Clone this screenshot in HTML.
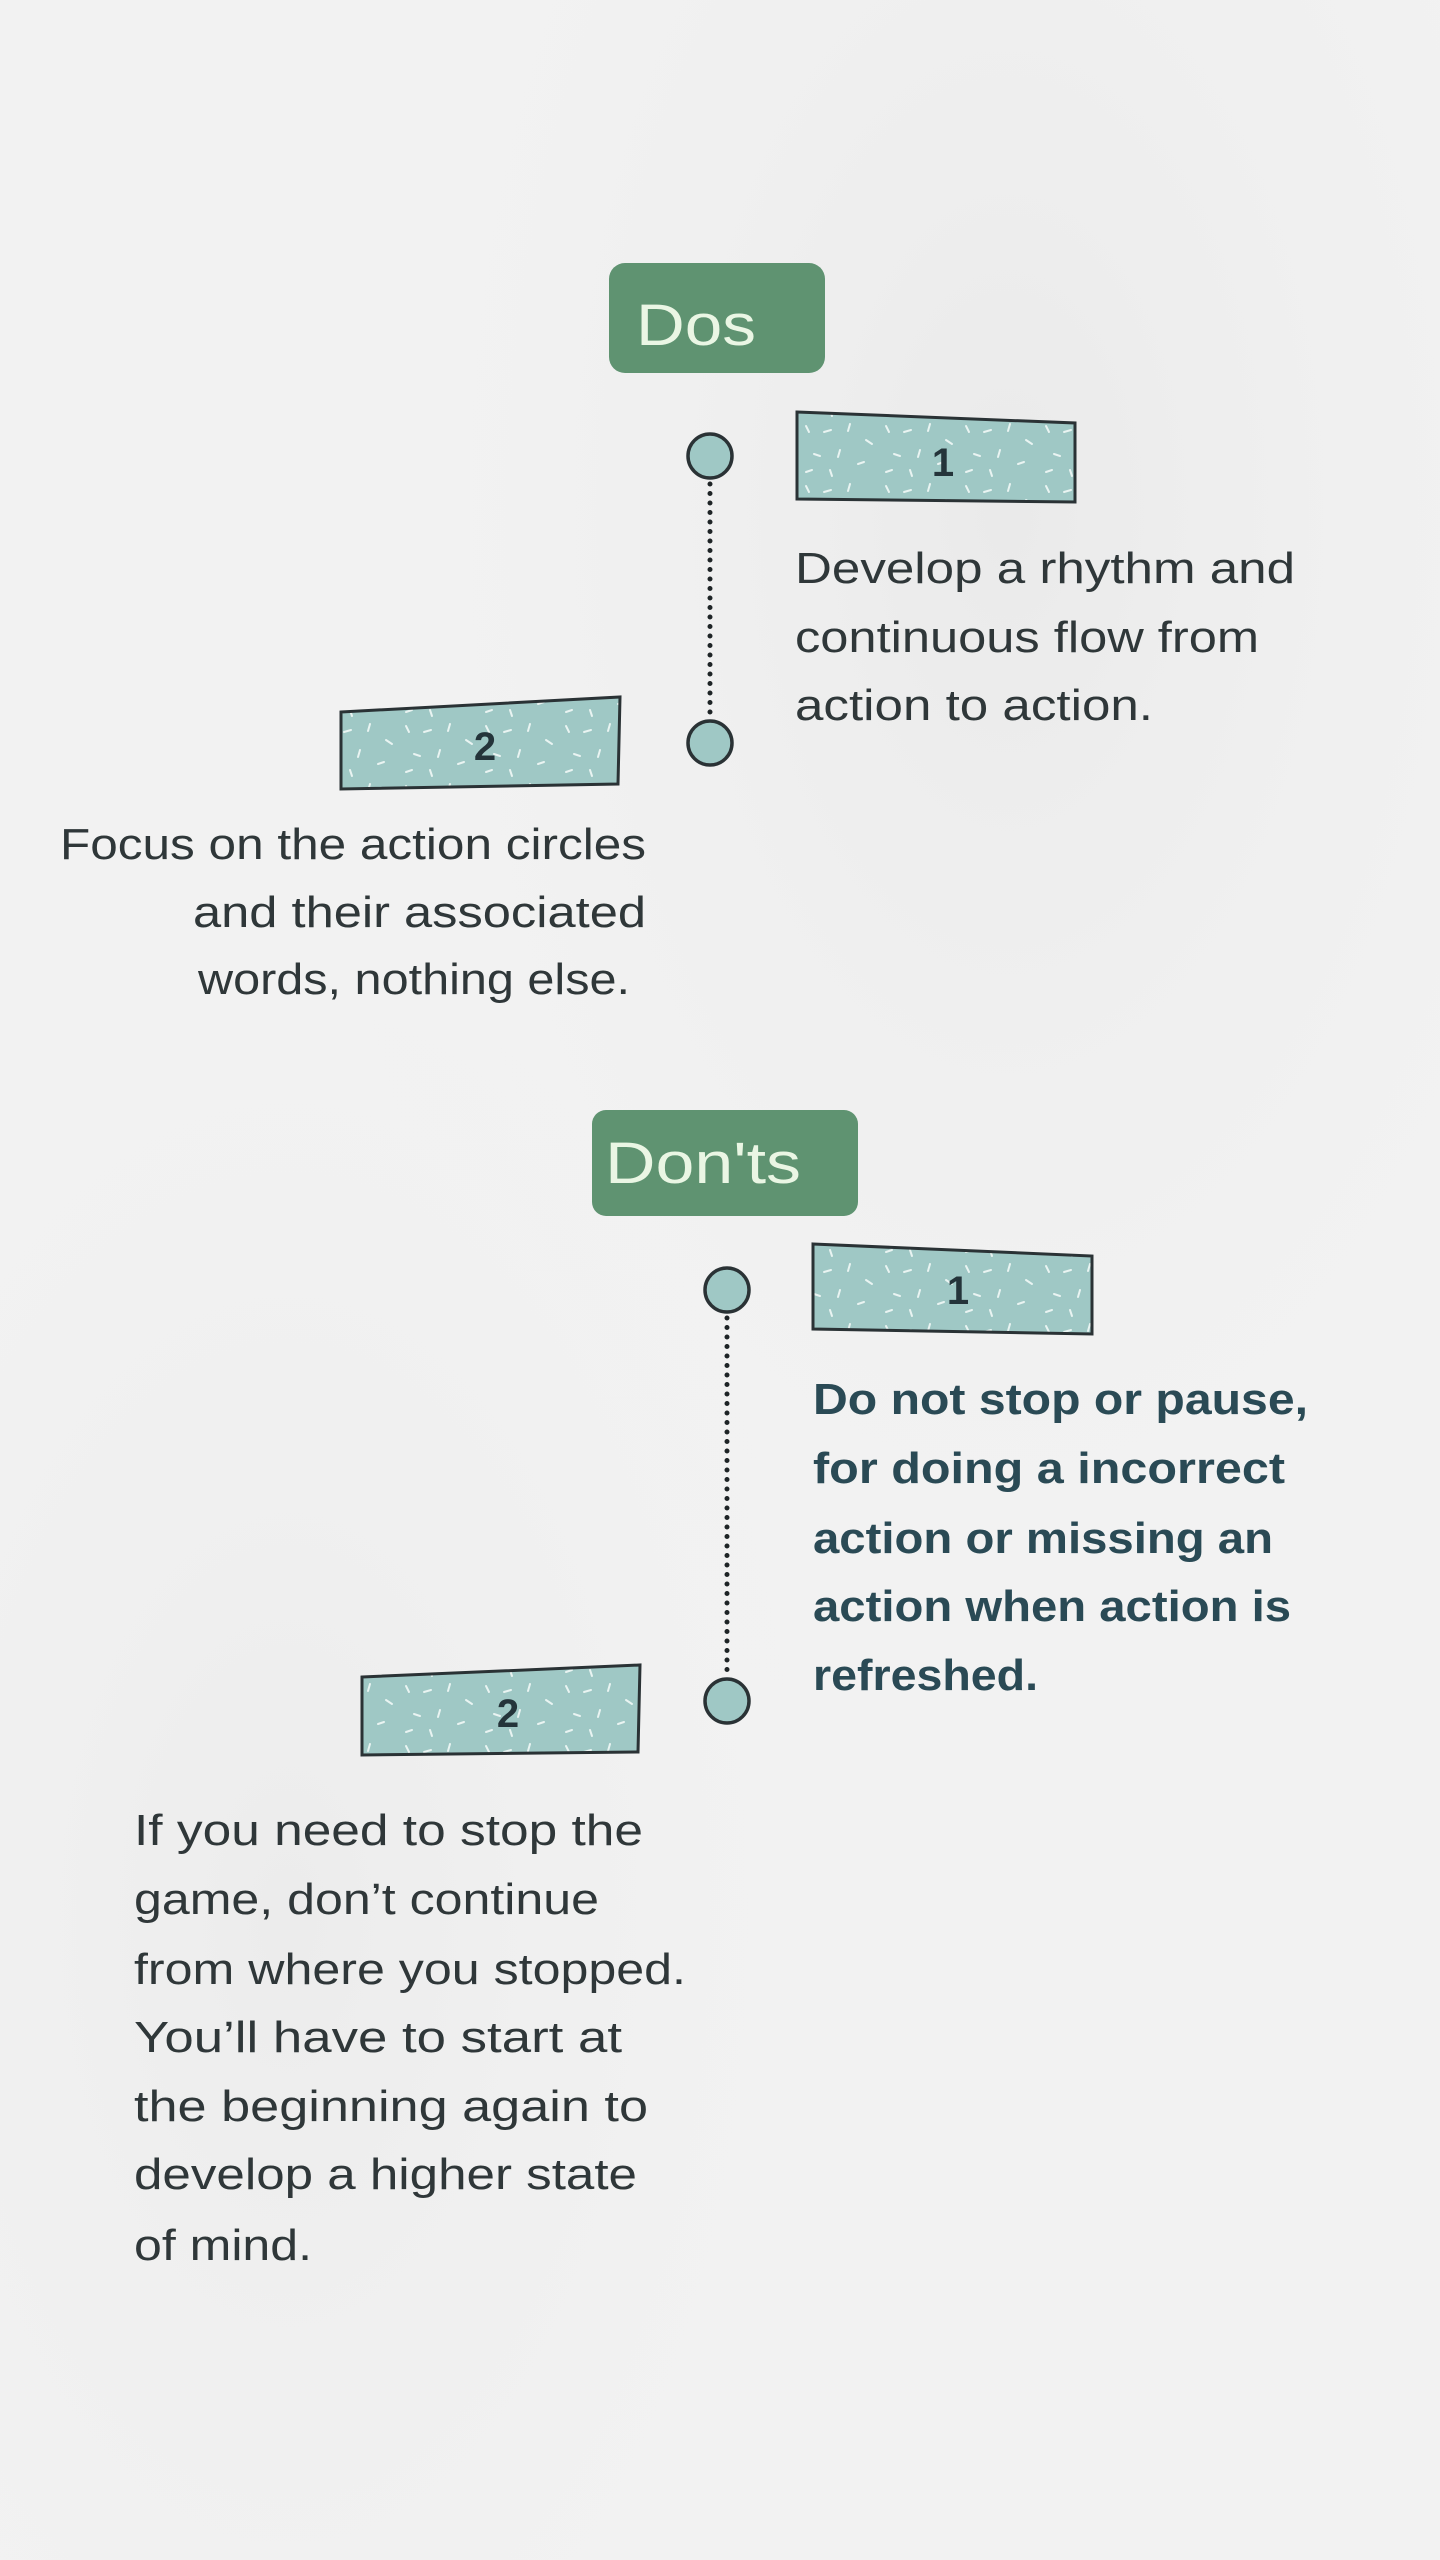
<!DOCTYPE html>
<html><head><meta charset="utf-8"><style>
html,body{margin:0;padding:0;width:1440px;height:2560px;overflow:hidden;background:#f2f2f2;}
svg{display:block;}
.t{font-family:"Liberation Sans",sans-serif;font-size:44px;fill:#2f3739;}
.b{font-family:"Liberation Sans",sans-serif;font-size:44px;fill:#2a4a55;font-weight:bold;}
.h{font-family:"Liberation Sans",sans-serif;font-size:58px;fill:#eaf6e4;}
.n{font-family:"Liberation Sans",sans-serif;font-size:40px;fill:#24343a;font-weight:bold;}
</style></head><body>
<svg width="1440" height="2560" viewBox="0 0 1440 2560" xmlns="http://www.w3.org/2000/svg">
<defs>
<radialGradient id="g1" cx="0.7" cy="0.2" r="0.5"><stop offset="0" stop-color="#eaeaea"/><stop offset="1" stop-color="#f2f2f2" stop-opacity="0"/></radialGradient>
<radialGradient id="g2" cx="0.2" cy="0.75" r="0.45"><stop offset="0" stop-color="#ececec"/><stop offset="1" stop-color="#f2f2f2" stop-opacity="0"/></radialGradient>
<pattern id="sp" width="80" height="60" patternUnits="userSpaceOnUse">
<rect width="80" height="60" fill="#9fc8c5"/>
<g stroke="#e9f4f2" stroke-width="2" stroke-linecap="round">
<line x1="6" y1="6" x2="9" y2="12"/><line x1="24" y1="12" x2="31" y2="10"/><line x1="50" y1="4" x2="48" y2="11"/>
<line x1="66" y1="20" x2="72" y2="24"/><line x1="14" y1="34" x2="20" y2="36"/><line x1="40" y1="30" x2="38" y2="37"/>
<line x1="58" y1="44" x2="64" y2="42"/><line x1="6" y1="52" x2="12" y2="50"/><line x1="30" y1="50" x2="32" y2="56"/>
</g></pattern>
</defs>
<rect width="1440" height="2560" fill="#f2f2f2"/>
<rect width="1440" height="2560" fill="url(#g1)"/>
<rect width="1440" height="2560" fill="url(#g2)"/>

<rect x="609" y="263" width="216" height="110" rx="16" fill="#5f9371"/>
<text class="h" x="636" y="345" textLength="120" lengthAdjust="spacingAndGlyphs">Dos</text>

<line x1="710" y1="484" x2="710" y2="716" stroke="#1e2426" stroke-width="5" stroke-linecap="round" stroke-dasharray="0 9.5"/>
<circle cx="710" cy="456" r="22" fill="#9fc8c5" stroke="#2a3235" stroke-width="3.5"/>
<circle cx="710" cy="743" r="22" fill="#9fc8c5" stroke="#2a3235" stroke-width="3.5"/>

<polygon points="797,412 1075,423 1075,502 797,499" fill="url(#sp)" stroke="#2a3235" stroke-width="3"/>
<text class="n" x="943" y="476" text-anchor="middle">1</text>
<polygon points="341,712 620,697 618,784 341,789" fill="url(#sp)" stroke="#2a3235" stroke-width="3"/>
<text class="n" x="485" y="760" text-anchor="middle">2</text>

<text class="t" x="795" y="583" textLength="500" lengthAdjust="spacingAndGlyphs">Develop a rhythm and</text>
<text class="t" x="795" y="652" textLength="464" lengthAdjust="spacingAndGlyphs">continuous flow from</text>
<text class="t" x="795" y="720" textLength="358" lengthAdjust="spacingAndGlyphs">action to action.</text>

<text class="t" x="60" y="859" textLength="586" lengthAdjust="spacingAndGlyphs">Focus on the action circles</text>
<text class="t" x="193" y="927" textLength="453" lengthAdjust="spacingAndGlyphs">and their associated</text>
<text class="t" x="198" y="994" textLength="432" lengthAdjust="spacingAndGlyphs">words, nothing else.</text>

<rect x="592" y="1110" width="266" height="106" rx="14" fill="#5f9371"/>
<text class="h" x="605" y="1183" textLength="196" lengthAdjust="spacingAndGlyphs">Don'ts</text>

<line x1="727" y1="1318" x2="727" y2="1674" stroke="#1e2426" stroke-width="5" stroke-linecap="round" stroke-dasharray="0 9.5"/>
<circle cx="727" cy="1290" r="22" fill="#9fc8c5" stroke="#2a3235" stroke-width="3.5"/>
<circle cx="727" cy="1701" r="22" fill="#9fc8c5" stroke="#2a3235" stroke-width="3.5"/>

<polygon points="813,1244 1092,1256 1092,1334 813,1329" fill="url(#sp)" stroke="#2a3235" stroke-width="3"/>
<text class="n" x="958" y="1304" text-anchor="middle">1</text>
<polygon points="362,1677 640,1665 638,1752 362,1755" fill="url(#sp)" stroke="#2a3235" stroke-width="3"/>
<text class="n" x="508" y="1727" text-anchor="middle">2</text>

<text class="b" x="813" y="1414" textLength="495" lengthAdjust="spacingAndGlyphs">Do not stop or pause,</text>
<text class="b" x="813" y="1483" textLength="472" lengthAdjust="spacingAndGlyphs">for doing a incorrect</text>
<text class="b" x="813" y="1553" textLength="460" lengthAdjust="spacingAndGlyphs">action or missing an</text>
<text class="b" x="813" y="1621" textLength="478" lengthAdjust="spacingAndGlyphs">action when action is</text>
<text class="b" x="813" y="1690" textLength="225" lengthAdjust="spacingAndGlyphs">refreshed.</text>

<text class="t" x="134" y="1845" textLength="509" lengthAdjust="spacingAndGlyphs">If you need to stop the</text>
<text class="t" x="134" y="1914" textLength="465" lengthAdjust="spacingAndGlyphs">game, don’t continue</text>
<text class="t" x="134" y="1984" textLength="552" lengthAdjust="spacingAndGlyphs">from where you stopped.</text>
<text class="t" x="134" y="2052" textLength="488" lengthAdjust="spacingAndGlyphs">You’ll have to start at</text>
<text class="t" x="134" y="2121" textLength="514" lengthAdjust="spacingAndGlyphs">the beginning again to</text>
<text class="t" x="134" y="2189" textLength="503" lengthAdjust="spacingAndGlyphs">develop a higher state</text>
<text class="t" x="134" y="2260" textLength="178" lengthAdjust="spacingAndGlyphs">of mind.</text>
</svg>
</body></html>
